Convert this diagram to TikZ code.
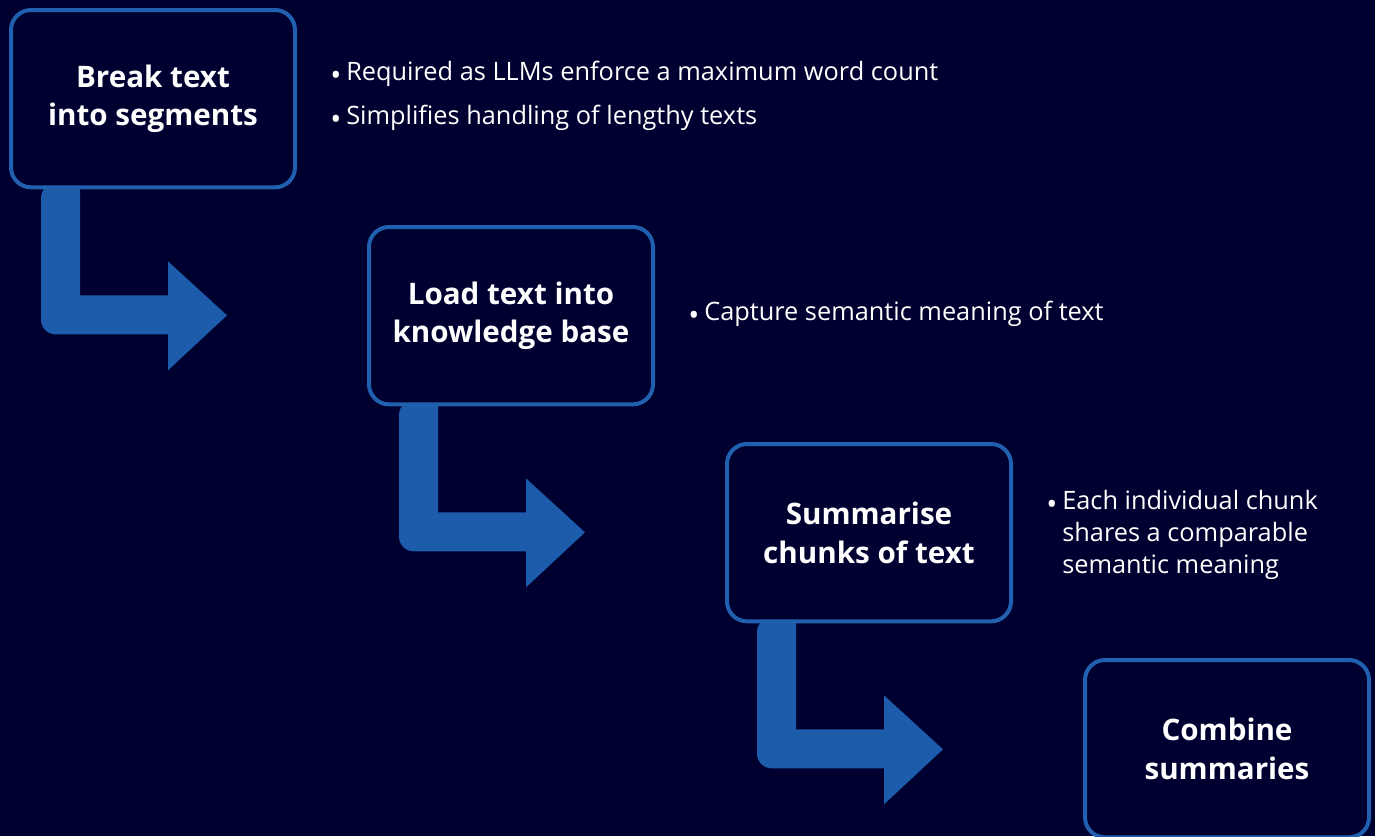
\documentclass[tikz,border=0pt]{standalone}
\usepackage{fontspec}
\setmainfont{Open Sans}
\usetikzlibrary{calc}
\definecolor{bg}{HTML}{000030}
\definecolor{boxblue}{HTML}{2060AE}
\definecolor{arrowblue}{HTML}{1C5CAB}
\newcommand\mybul{\makebox[12pt][l]{\raisebox{-4pt}{\fontsize{22}{22}\selectfont•}}}
\tikzset{
  stepbox/.style={draw=boxblue, line width=3pt, fill=bg, rounded corners=15pt,
    minimum width=213pt, minimum height=133pt, align=center, text=white,
    font=\fontsize{22.2}{29}\selectfont\bfseries, anchor=north west, inner sep=0pt},
  bullettext/.style={text=white, anchor=base west, inner sep=0pt,
    font=\fontsize{19}{24}\selectfont, align=left},
  bentarrow/.style={fill=arrowblue, draw=none}
}
\newcommand\mybentarrow[1]{%
  \begin{scope}[shift={(#1.south west)}]
    \fill[bentarrow] (71,-6) -- (71,106) -- (159,106) -- (159,72) -- (218,126)
      -- (159,181) -- (159,145) [rounded corners=11pt] -- (32,145) -- (32,-6) [sharp corners] -- cycle;
  \end{scope}}
\begin{document}
\begin{tikzpicture}[x=0.75pt,y=-0.75pt]
\fill[bg] (0,0) rectangle (1375,836);
\useasboundingbox (0,0) rectangle (1375,836);
% placement anchors
\coordinate (p1) at (9,8);
\coordinate (p2) at (367,225);
\coordinate (p3) at (725,442);
\coordinate (p4) at (1083,658);
% guides for the arrows (behind boxes)
\node[stepbox, draw=none, fill=none] (g1) at (p1) {};
\node[stepbox, draw=none, fill=none] (g2) at (p2) {};
\node[stepbox, draw=none, fill=none] (g3) at (p3) {};
\mybentarrow{g1}
\mybentarrow{g2}
\mybentarrow{g3}
% boxes
\node[stepbox] (b1) at (p1) {Break text\\into segments};
\node[stepbox] (b2) at (p2) {Load text into\\knowledge base};
\node[stepbox] (b3) at (p3) {Summarise\\chunks of text};
\node[stepbox] (b4) at (p4) {Combine\\summaries};
% bullets
\node[bullettext] (t1) at (330,80) {\mybul Required as LLMs enforce a maximum word count};
\node[bullettext] (t2) at (330,124) {\mybul Simplifies handling of lengthy texts};
\node[bullettext] (t3) at (688,320) {\mybul Capture semantic meaning of text};
\node[bullettext, anchor=north west] (t4) at (1046,490) {\mybul Each individual chunk\\\hspace*{12pt}shares a comparable\\\hspace*{12pt}semantic meaning};
\end{tikzpicture}
\end{document}
